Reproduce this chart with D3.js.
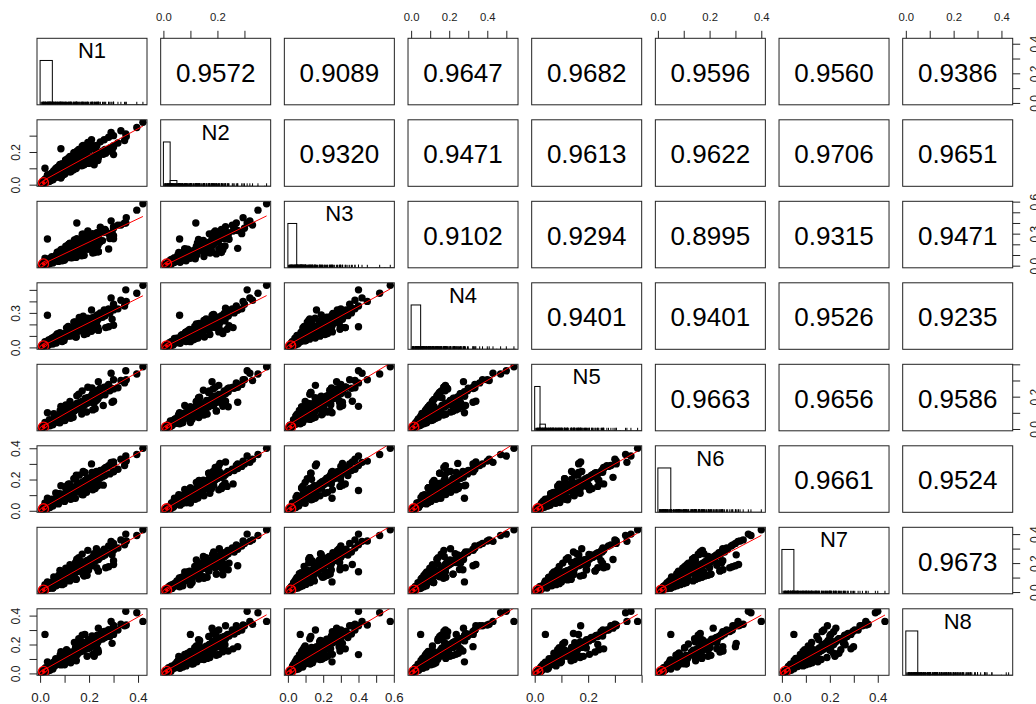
<!DOCTYPE html>
<html>
<head>
<meta charset="utf-8">
<script src="https://cdn.jsdelivr.net/npm/d3@7"></script>
<style>
  body { margin: 0; background: #fff; }
  svg { display: block; }
  text { font-family: "Liberation Sans", Arial, sans-serif; }
</style>
</head>
<body>
<svg id="chart" width="1036" height="704"></svg>
<script>
const names = ["N1", "N2", "N3", "N4", "N5", "N6", "N7", "N8"];

// observations, one array per variable (same order of cases)
const N1 = [.004,.010,.007,.015,.012,.022,.017,.026,.021,.033,
            .027,.036,.031,.044,.035,.048,.040,.055,.044,.061,
            .052,.070,.058,.078,.064,.084,.071,.094,.080,.104,
            .088,.116,.097,.126,.108,.137,.116,.152,.128,.163,
            .139,.172,.148,.184,.158,.193,.166,.205,.176,.214,
            .185,.226,.192,.236,.205,.244,.214,.255,.222,.265,
            .232,.285,.246,.300,.262,.318,.280,.345,.300,.352,
            .330,.290,.395,.350,.420,.020,.085,.030,.150,
            .022,.052,.041,.075,.058,.098,.072,.125,.090,.148,
            .108,.170,.122,.192,.140,.215,.158,.238,.176,.258,
            .195,.280,.210,.040,.038,.090,.070,.135,.105,.180,
            .138,.225,.172,.268,.048,.100,.082,.145,.115,.190,
            .150,.238,.052,.030,.300,
            .013,.012,.022,.018,.036,.032,.052,.045,.035,.066,
            .048,.085,.063,.083,.056,.102,.090,.076,.130,.095,
            .121,.081,.144,.125,.104,.176,.126,.013,.015,.038,
            .042,.042,.081,.065,.090,.064,.122,.112,.120,.221,
            .171,.149,.210,.148,.195,.236,.183,.236,.212,.294,
            .152,.198,.160,.220,.300,.171,.231,.145,.230,.238];
const N2 = [.006,.005,.011,.009,.016,.013,.020,.017,.024,.022,
            .028,.025,.033,.030,.037,.034,.043,.038,.047,.046,
            .055,.050,.061,.059,.068,.062,.075,.070,.083,.078,
            .092,.086,.101,.095,.111,.103,.118,.120,.133,.126,
            .140,.135,.150,.144,.158,.152,.170,.160,.178,.171,
            .190,.180,.200,.186,.215,.196,.224,.205,.230,.215,
            .240,.225,.262,.238,.275,.255,.290,.270,.300,.295,
            .330,.320,.350,.310,.382,.100,.220,.060,.120,
            .036,.032,.060,.050,.084,.064,.106,.082,.128,.100,
            .150,.116,.172,.132,.196,.150,.215,.168,.240,.186,
            .258,.205,.275,.022,.062,.055,.105,.090,.150,.122,
            .196,.158,.236,.192,.072,.066,.118,.100,.162,.132,
            .205,.168,.030,.028,.230,
            .007,.016,.016,.029,.019,.032,.040,.032,.054,.045,
            .070,.041,.069,.054,.086,.069,.057,.111,.090,.104,
            .079,.124,.097,.079,.152,.122,.139,.009,.024,.026,
            .026,.061,.056,.071,.059,.099,.083,.131,.149,.122,
            .126,.178,.134,.183,.219,.148,.194,.182,.243,.209,
            .173,.130,.189,.228,.184,.214,.170,.168,.207,.180];
const N3 = [.003,.012,.008,.010,.020,.016,.025,.019,.030,.024,
            .036,.029,.041,.035,.047,.040,.052,.046,.060,.053,
            .068,.060,.075,.066,.084,.073,.094,.082,.103,.090,
            .115,.098,.126,.108,.140,.118,.150,.135,.168,.142,
            .180,.150,.195,.160,.205,.170,.220,.178,.235,.190,
            .250,.196,.265,.210,.280,.220,.300,.235,.260,.340,
            .310,.255,.360,.280,.330,.380,.300,.400,.350,.450,
            .380,.420,.520,.400,.580,.070,.150,.250,.400,
            .042,.056,.070,.040,.046,.052,.126,.140,.155,.078,
            .085,.092,.210,.225,.240,.118,.124,.130,.295,.310,
            .325,.156,.162,.020,.032,.046,.126,.155,.182,.098,
            .110,.124,.295,.325,.084,.052,.065,.078,.196,.225,
            .252,.130,.026,.012,.365,
            .012,.020,.015,.024,.038,.029,.029,.061,.053,.046,
            .076,.075,.051,.102,.076,.071,.123,.100,.074,.132,
            .150,.109,.101,.158,.137,.099,.191,.014,.021,.044,
            .053,.038,.052,.098,.086,.087,.075,.141,.205,.179,
            .212,.139,.184,.243,.154,.237,.293,.189,.247,.309,
            .118,.246,.242,.185,.252,.180,.298,.134,.290,.276];
const N4 = [.005,.008,.013,.011,.014,.021,.019,.024,.028,.026,
            .033,.037,.034,.036,.045,.043,.050,.053,.058,.060,
            .066,.064,.071,.077,.070,.082,.088,.091,.098,.096,
            .108,.112,.120,.132,.128,.136,.140,.142,.156,.160,
            .176,.172,.178,.182,.190,.186,.200,.206,.210,.226,
            .222,.228,.230,.240,.246,.262,.258,.262,.262,.276,
            .280,.296,.300,.326,.325,.335,.335,.360,.375,.400,
            .410,.430,.470,.500,.540,.050,.120,.280,.180,
            .022,.030,.066,.080,.052,.060,.118,.130,.082,.090,
            .170,.182,.112,.120,.220,.235,.142,.150,.272,.286,
            .172,.180,.325,.040,.036,.052,.118,.143,.098,.112,
            .220,.248,.158,.172,.080,.104,.075,.090,.182,.208,
            .135,.150,.052,.015,.340,
            .009,.011,.024,.028,.024,.046,.040,.041,.065,.039,
            .060,.078,.091,.060,.088,.111,.072,.067,.120,.105,
            .099,.127,.156,.100,.091,.162,.140,.008,.029,.035,
            .038,.062,.081,.058,.057,.101,.133,.101,.150,.204,
            .155,.198,.140,.176,.254,.174,.237,.281,.188,.245,
            .184,.162,.260,.231,.192,.228,.179,.221,.207,.275];
const N5 = [.004,.007,.009,.012,.011,.020,.018,.019,.023,.021,
            .027,.029,.031,.034,.041,.038,.040,.043,.045,.044,
            .053,.056,.058,.068,.064,.067,.071,.070,.080,.084,
            .088,.099,.097,.102,.112,.110,.116,.123,.122,.133,
            .137,.150,.146,.151,.148,.160,.163,.176,.172,.178,
            .190,.186,.190,.186,.200,.204,.218,.213,.218,.212,
            .230,.236,.252,.250,.258,.255,.276,.285,.305,.305,
            .300,.345,.340,.360,.385,.040,.140,.100,.140,
            .036,.046,.032,.040,.080,.092,.060,.066,.125,.136,
            .086,.092,.170,.182,.112,.118,.215,.226,.138,.145,
            .258,.270,.165,.020,.058,.080,.060,.072,.148,.170,
            .112,.125,.236,.258,.040,.052,.114,.136,.092,.105,
            .205,.226,.026,.024,.172,
            .011,.014,.023,.018,.030,.022,.032,.049,.036,.064,
            .038,.059,.076,.061,.094,.054,.089,.077,.072,.123,
            .099,.083,.119,.146,.105,.146,.088,.014,.016,.029,
            .049,.051,.039,.078,.096,.066,.101,.071,.122,.168,
            .112,.156,.197,.150,.193,.240,.164,.203,.254,.165,
            .158,.194,.162,.158,.248,.171,.236,.138,.176,.293];
const N6 = [.006,.006,.012,.010,.017,.015,.022,.018,.027,.024,
            .031,.028,.036,.033,.042,.037,.047,.043,.052,.050,
            .061,.054,.067,.062,.074,.066,.082,.075,.090,.083,
            .099,.092,.108,.100,.119,.108,.128,.125,.142,.130,
            .150,.140,.160,.150,.168,.160,.178,.170,.186,.180,
            .196,.188,.206,.196,.214,.208,.222,.218,.232,.226,
            .244,.236,.258,.250,.270,.266,.284,.290,.300,.318,
            .330,.310,.360,.350,.400,.050,.160,.080,.130,
            .022,.050,.062,.044,.052,.098,.110,.074,.082,.146,
            .158,.104,.112,.194,.205,.134,.142,.240,.252,.164,
            .172,.288,.300,.022,.036,.086,.110,.082,.096,.182,
            .205,.142,.156,.278,.074,.060,.074,.146,.170,.118,
            .134,.240,.050,.014,.312,
            .007,.019,.019,.029,.026,.037,.030,.030,.052,.052,
            .051,.080,.053,.086,.053,.081,.103,.099,.086,.070,
            .136,.109,.080,.107,.148,.103,.146,.010,.027,.021,
            .032,.049,.071,.048,.070,.114,.078,.117,.171,.145,
            .177,.141,.175,.228,.157,.195,.245,.160,.246,.303,
            .137,.171,.228,.178,.251,.144,.200,.202,.251,.214];
const N7 = [.005,.009,.010,.013,.016,.018,.019,.023,.026,.027,
            .029,.034,.035,.037,.041,.044,.044,.050,.053,.055,
            .060,.064,.066,.072,.071,.078,.083,.086,.093,.098,
            .101,.109,.112,.118,.124,.126,.131,.144,.147,.156,
            .155,.166,.167,.174,.180,.183,.188,.196,.198,.206,
            .205,.216,.218,.224,.230,.236,.240,.246,.250,.256,
            .264,.272,.276,.288,.296,.304,.318,.326,.336,.352,
            .360,.350,.390,.400,.430,.050,.120,.070,.140,
            .038,.028,.036,.076,.088,.058,.066,.126,.138,.088,
            .095,.176,.188,.116,.124,.226,.238,.146,.154,.276,
            .288,.175,.182,.038,.064,.051,.066,.138,.164,.110,
            .124,.238,.262,.168,.044,.100,.126,.088,.102,.200,
            .226,.146,.028,.026,.190,
            .010,.014,.016,.033,.036,.025,.048,.050,.045,.044,
            .066,.059,.070,.053,.104,.102,.081,.114,.110,.084,
            .077,.150,.144,.138,.104,.122,.112,.014,.022,.026,
            .046,.047,.062,.058,.098,.092,.133,.090,.105,.221,
            .140,.215,.193,.185,.156,.246,.204,.259,.200,.257,
            .200,.153,.200,.264,.216,.209,.168,.204,.299,.225];
const N8 = [.004,.008,.011,.012,.015,.019,.021,.022,.026,.029,
            .031,.033,.036,.045,.040,.043,.046,.049,.051,.054,
            .057,.061,.066,.071,.073,.074,.082,.090,.092,.094,
            .103,.098,.113,.114,.123,.124,.133,.130,.148,.148,
            .150,.158,.168,.168,.188,.178,.188,.180,.198,.198,
            .208,.200,.218,.218,.228,.236,.240,.238,.240,.248,
            .262,.255,.272,.270,.290,.300,.300,.330,.330,.335,
            .340,.360,.420,.430,.360,.270,.150,.080,.130,
            .040,.030,.064,.078,.052,.104,.066,.074,.140,.088,
            .164,.178,.110,.118,.214,.132,.240,.148,.155,.276,
            .170,.300,.185,.022,.062,.090,.066,.140,.096,.190,
            .125,.140,.265,.290,.044,.060,.128,.152,.104,.204,
            .132,.255,.050,.015,.330,
            .013,.017,.016,.025,.039,.042,.036,.032,.055,.066,
            .048,.059,.091,.083,.080,.102,.117,.067,.100,.126,
            .132,.081,.120,.100,.143,.176,.098,.012,.024,.026,
            .038,.036,.068,.094,.074,.101,.122,.112,.120,.119,
            .163,.140,.228,.213,.176,.164,.269,.225,.259,.208,
            .160,.234,.170,.198,.288,.219,.200,.179,.184,.313];

// correlations, upper triangle, one array per row
const corN1 = [0.9572, 0.9089, 0.9647, 0.9682, 0.9596, 0.9560, 0.9386];
const corN2 = [0.9320, 0.9471, 0.9613, 0.9622, 0.9706, 0.9651];
const corN3 = [0.9102, 0.9294, 0.8995, 0.9315, 0.9471];
const corN4 = [0.9401, 0.9401, 0.9526, 0.9235];
const corN5 = [0.9663, 0.9656, 0.9586];
const corN6 = [0.9661, 0.9524];
const corN7 = [0.9673];

// histogram heights (relative to tallest bin) and bin widths
const histN1 = [1, 0.045, 0.02, 0.012, 0.006, 0.003, 0.002, 0.001, 0.001];
const histN2 = [1, 0.13, 0.035, 0.02, 0.012, 0.008, 0.006, 0.004, 0.003, 0.002, 0.002, 0.001, 0.001, 0.001, 0.0005, 0.0005];
const histN3 = [1, 0.06, 0.02, 0.01, 0.006, 0.004, 0.002, 0.001, 0.001, 0.0005, 0.0005, 0.0005];
const histN4 = [1, 0.04, 0.015, 0.008, 0.004, 0.003, 0.002, 0.001, 0.001, 0.0005, 0.0005];
const histN5 = [1, 0.15, 0.045, 0.025, 0.015, 0.01, 0.008, 0.006, 0.005, 0.004, 0.003, 0.003, 0.002, 0.002, 0.001, 0.001, 0.001, 0.001, 0.0005, 0.0005];
const histN6 = [1, 0.035, 0.015, 0.008, 0.004, 0.002, 0.001, 0.001];
const histN7 = [1, 0.05, 0.02, 0.01, 0.005, 0.003, 0.002, 0.001, 0.001];
const histN8 = [1, 0.035, 0.015, 0.008, 0.004, 0.002, 0.001, 0.001, 0.0005];
const binWidths = [0.05, 0.025, 0.05, 0.05, 0.02, 0.05, 0.05, 0.05];

// means (centre of the ellipses)
const means = [0.014, 0.012, 0.016, 0.014, 0.012, 0.013, 0.014, 0.014];

// which tick labels R kept on each axis
const hLabels = [[0, 0.2, 0.4], [0, 0.2], [0, 0.2, 0.4, 0.6], [0, 0.2, 0.4], [0, 0.2], [0, 0.2, 0.4], [0, 0.2, 0.4], [0, 0.2, 0.4]];
const vLabels = [[0, 0.2, 0.4], [0, 0.2], [0, 0.3, 0.6], [0, 0.3], [0, 0.2], [0, 0.2, 0.4], [0, 0.2, 0.4], [0, 0.2, 0.4]];

const vars = [N1, N2, N3, N4, N5, N6, N7, N8];
const cors = [corN1, corN2, corN3, corN4, corN5, corN6, corN7];
const hists = [histN1, histN2, histN3, histN4, histN5, histN6, histN7, histN8];
const n = names.length;

const svg = d3.select("#chart");

const colBand = d3.scaleBand().domain(d3.range(n)).range([37, 1012.7]).paddingInner(0.1105);
const rowBand = d3.scaleBand().domain(d3.range(n)).range([38.3, 675.3]).paddingInner(0.184);
const W = colBand.bandwidth(), H = rowBand.bandwidth();

// R style: data range extended 4% each side
function padScale(v, range) {
    let ext = d3.extent(v);
    let pad = (ext[1] - ext[0]) * 0.04;
    return d3.scaleLinear().domain([ext[0] - pad, ext[1] + pad]).range(range);
}

const xScales = vars.map((v, k) => padScale(v, [colBand(k), colBand(k) + W]));
const yScales = vars.map((v, k) => padScale(v, [rowBand(k) + H, rowBand(k)]));

const fmt1 = d3.format(".1f");
function labelFn(list) {
    return d => list.some(v => Math.abs(v - d) < 1e-9) ? fmt1(d) : "";
}

const defs = svg.append("defs");

for (let i = 0; i < n; i++) {
    for (let j = 0; j < n; j++) {
        let x0 = colBand(j), y0 = rowBand(i);
        let g = svg.append("g").attr("class", "panel");
        let clipId = "clip-" + i + "-" + j;
        defs.append("clipPath").attr("id", clipId)
            .append("rect").attr("x", x0).attr("y", y0).attr("width", W).attr("height", H);
        let inner = g.append("g").attr("clip-path", "url(#" + clipId + ")");

        if (i === j) {
            // histogram + rug + name
            let xs = xScales[j];
            let hy = d3.scaleLinear().domain([0, 1.5]).range([y0 + H, y0]);
            let bw = binWidths[j];
            inner.selectAll("rect.bar")
                .data(hists[j])
                .join("rect")
                .attr("class", "bar")
                .attr("x", (d, k) => xs(k * bw))
                .attr("width", (d, k) => xs((k + 1) * bw) - xs(k * bw))
                .attr("y", d => hy(d))
                .attr("height", d => hy(0) - hy(d))
                .attr("fill", "#fff")
                .attr("stroke", "#000")
                .attr("stroke-width", 1);
            inner.selectAll("line.rug")
                .data(vars[j])
                .join("line")
                .attr("class", "rug")
                .attr("x1", d => xs(d)).attr("x2", d => xs(d))
                .attr("y1", y0 + H).attr("y2", y0 + H - 3)
                .attr("stroke", "#000")
                .attr("stroke-width", 1);
            g.append("text")
                .attr("x", x0 + W / 2)
                .attr("y", y0 + 20)
                .attr("text-anchor", "middle")
                .attr("font-size", 22)
                .attr("fill", "#000")
                .text(names[j]);
        } else if (i < j) {
            g.append("text")
                .attr("x", x0 + W / 2)
                .attr("y", y0 + H / 2 + 10)
                .attr("text-anchor", "middle")
                .attr("font-size", 26)
                .attr("fill", "#000")
                .text(d3.format(".4f")(cors[i][j - i - 1]));
        } else {
            // scatter: x = variable j, y = variable i
            let xs = xScales[j], ys = yScales[i];
            let xv = vars[j], yv = vars[i];
            let pts = xv.map((d, k) => [d, yv[k]]);
            inner.selectAll("circle.pt")
                .data(pts)
                .join("circle")
                .attr("class", "pt")
                .attr("cx", d => xs(d[0]))
                .attr("cy", d => ys(d[1]))
                .attr("r", 3.7)
                .attr("fill", "#000");

            // least squares fit line
            let mx = d3.mean(xv), my = d3.mean(yv);
            let sxy = d3.sum(pts, d => (d[0] - mx) * (d[1] - my));
            let sxx = d3.sum(xv, d => (d - mx) * (d - mx));
            let b = sxy / sxx, a = my - b * mx;
            let lx = [means[j], d3.max(xv)];
            inner.append("path")
                .datum(lx)
                .attr("d", d3.line().x(d => xs(d)).y(d => ys(a + b * d)))
                .attr("fill", "none")
                .attr("stroke", "red")
                .attr("stroke-width", 1);

            // ellipse at the means
            let cx = xs(means[j]), cy = ys(means[i]);
            inner.append("circle")
                .attr("cx", cx).attr("cy", cy).attr("r", 5)
                .attr("fill", "none").attr("stroke", "red").attr("stroke-width", 1.3);
            inner.append("ellipse")
                .attr("cx", cx).attr("cy", cy).attr("rx", 4.8).attr("ry", 1.7)
                .attr("transform", "rotate(-35," + cx + "," + cy + ")")
                .attr("fill", "none").attr("stroke", "red").attr("stroke-width", 1);
            inner.append("circle")
                .attr("cx", cx).attr("cy", cy).attr("r", 1.6)
                .attr("fill", "red");
        }

        g.append("rect")
            .attr("x", x0).attr("y", y0)
            .attr("width", W).attr("height", H)
            .attr("fill", "none")
            .attr("stroke", "#222")
            .attr("stroke-width", 1);
    }
}

// axes, alternating sides like R's pairs()
function styleAxis(ax) {
    ax.select(".domain").remove();
    ax.selectAll(".tick line").attr("stroke", "#222");
    ax.selectAll(".tick text").attr("fill", "#222");
}

for (let k = 0; k < n; k++) {
    let xs = xScales[k], ys = yScales[k];
    if (k % 2 === 1) {
        let ax = svg.append("g")
            .attr("transform", "translate(0," + rowBand(0) + ")")
            .call(d3.axisTop(xs).ticks(5).tickSize(7.5).tickPadding(9.8).tickFormat(labelFn(hLabels[k])));
        ax.attr("font-size", 11.3).attr("font-family", null);
        styleAxis(ax);
    } else {
        let ax = svg.append("g")
            .attr("transform", "translate(0," + (rowBand(n - 1) + H) + ")")
            .call(d3.axisBottom(xs).ticks(5).tickSize(7.5).tickPadding(9.4).tickFormat(labelFn(hLabels[k])));
        ax.attr("font-size", 13.3).attr("font-family", null);
        styleAxis(ax);
    }
    if (k % 2 === 1) {
        let ax = svg.append("g")
            .attr("transform", "translate(" + colBand(0) + ",0)")
            .call(d3.axisLeft(ys).ticks(5).tickSize(7.5).tickFormat(labelFn(vLabels[k])));
        ax.attr("font-size", 12).attr("font-family", null);
        styleAxis(ax);
        ax.selectAll(".tick text")
            .attr("transform", "rotate(-90)")
            .attr("x", 0).attr("y", -17.5).attr("dy", null)
            .attr("text-anchor", "middle");
    } else {
        let ax = svg.append("g")
            .attr("transform", "translate(" + (colBand(n - 1) + W) + ",0)")
            .call(d3.axisRight(ys).ticks(5).tickSize(7.5).tickFormat(labelFn(vLabels[k])));
        ax.attr("font-size", 12).attr("font-family", null);
        styleAxis(ax);
        ax.selectAll(".tick text")
            .attr("transform", "rotate(-90)")
            .attr("x", 0).attr("y", 26.8).attr("dy", null)
            .attr("text-anchor", "middle");
    }
}
</script>
</body>
</html>
